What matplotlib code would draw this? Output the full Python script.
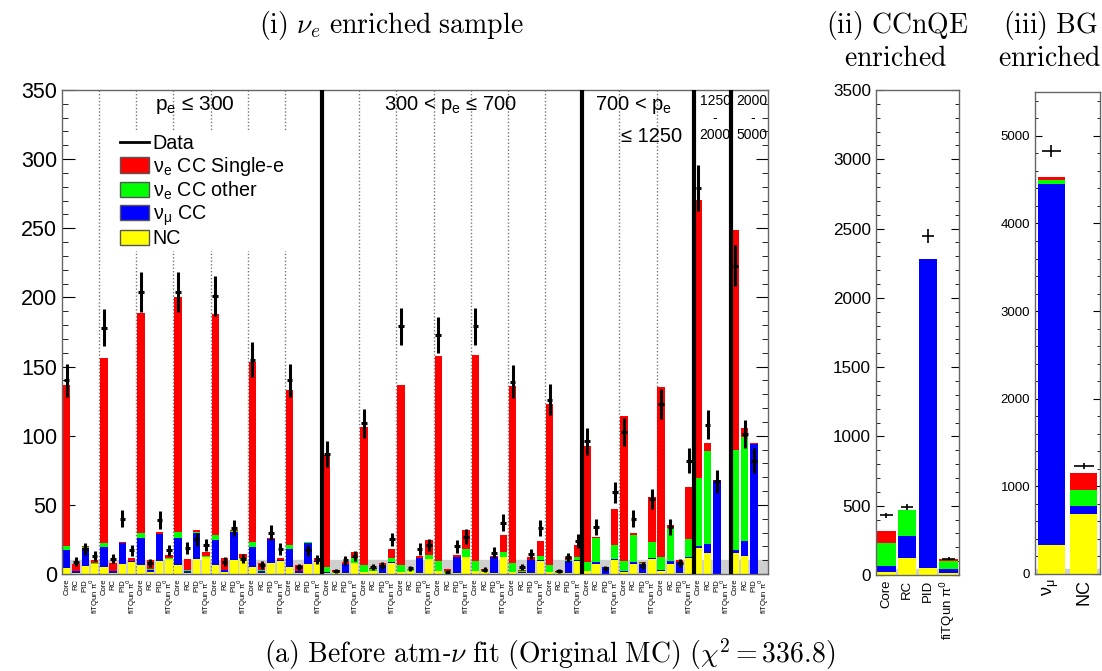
import numpy as np
import matplotlib
matplotlib.use('Agg')
import matplotlib.pyplot as plt
from matplotlib.patches import Patch
from matplotlib.lines import Line2D
from matplotlib.ticker import MultipleLocator

plt.rcParams['font.family'] = ['Liberation Sans', 'DejaVu Sans']

# ---------------- data: (i) nu_e enriched sample (76 bins) ----------------
sub_labels = ["Core", "RC", "PID", "fiTQun π$^0$"]
bin_labels = sub_labels * 19

nc = [4.6, 1, 6, 7,   5.3, 1, 7.2, 8.7,   6.5, 1.5, 9.6, 10.6,   6.5, 1, 10.6, 12,
      6.5, 1.2, 10.1, 10.6,   5.3, 1, 8.2, 9.6,   4.8, 1, 7.2, 8.9,
      1, 0.5, 0.8, 8,   1.5, 2, 0.5, 8.2,   1.5, 2, 0.5, 10.6,   2, 0.5, 0.5, 12,
      2, 1.2, 0.5, 12,   1.5, 1, 0.8, 9.6,   1.5, 0.5, 0.5, 9.6,
      2, 7.5, 0.3, 10,   1.7, 7.5, 0.5, 11,   2.4, 7.5, 0.5, 11.5,
      18.5, 15.5, 0, 0,
      15, 13, 0, 0]
numu = [12.4, 1, 13, 0.4,   14, 1, 15, 0.4,   19.3, 1.5, 19.3, 0.5,   19.3, 1.5, 19.3, 0.5,
        18.1, 1.5, 20.5, 0.5,   14.5, 1.5, 17.1, 0.4,   13.2, 1, 15.5, 0.4,
        0.2, 0.2, 6.2, 0.3,   0.2, 0.4, 6, 0.5,   0.3, 0.3, 10.8, 0.5,   0.3, 0.2, 11.5, 0.5,
        0.3, 0.3, 11.5, 0.5,   0.3, 0.3, 9.3, 0.4,   0.3, 0.2, 9.2, 0.4,
        0.3, 1.5, 5, 0.7,   0.3, 1.5, 7, 0.5,   0.3, 2, 8, 0.7,
        2, 6.5, 67, 0,
        2, 11, 94, 0]
nue_other = [3, 0.3, 0.3, 0.4,   3.3, 0.5, 0.3, 0.4,   3.6, 0.3, 0.3, 0.5,   4.8, 0.3, 0.5, 0.8,
             3.6, 0.3, 0.3, 0.6,   3.6, 0.2, 0.3, 0.4,   3, 0.2, 0.2, 0.4,
             3.8, 1, 0.3, 3,   4.8, 1.5, 0.3, 2.6,   5, 1, 0.3, 2.6,   7.3, 1.3, 0.3, 5.5,
             7.3, 1, 0.3, 3.6,   6, 1.2, 0.3, 3,   4.7, 1, 0.3, 2,
             6.6, 17, 0, 10,   7.4, 19.5, 0.2, 11.7,   9.3, 24, 0.5, 13,
             49, 67, 0.3, 0,
             73, 75, 0, 0]
nue_single = [117, 5, 0.8, 2,   133.4, 5.7, 0.7, 1.8,   159, 6.8, 1.1, 2.1,   170, 7.8, 1.4, 2.8,
              160, 8.3, 1, 2.8,   129.6, 5.5, 0.5, 1.4,   112, 4.3, 0.6, 1.6,
              81, 1.2, 1.2, 4.7,   100, 0.3, 1, 6.7,   130, 0.3, 1.2, 11,   148, 1.5, 1.4, 13.8,
              148.8, 1, 1, 11.9,   128.2, 0.5, 1.8, 10.7,   116.5, 0.5, 2, 9,
              84, 1, 0, 26,   105, 1.5, 1, 32.2,   123, 2, 1, 37.5,
              201, 6, 0.7, 0,
              159, 6.5, 0.5, 0]
data = [140, 9, 18, 13,   178, 11, 40, 17,   204, 8, 39, 17,   204, 19, 25, 21,
        201, 9, 33, 11,   155, 6.5, 30, 18,   140, 5, 17, 10.6,
        87, 2, 10, 13,   109, 5, 6, 25,   179, 4, 18, 21,   173, 1.5, 20, 27,
        179, 3, 15.5, 37,   139, 5, 14.5, 33,   126, 2, 12, 24,
        96, 34, 4, 59,   103, 40, 6, 54,   123, 34, 8, 82,
        279, 108, 67, np.nan,
        223, 101, 82, np.nan]

# ---------------- (ii) CCnQE enriched ----------------
cc_labels = ["Core", "RC", "PID", "fiTQun π$^0$"]
cc_nc = [24, 125, 48, 17]
cc_numu = [40, 160, 2230, 24]
cc_other = [170, 185, 0, 60]
cc_single = [80, 0, 0, 12]
cc_data = [430, 490, 2445, 118]

# ---------------- (iii) BG enriched ----------------
bg_labels = ["ν$_\\mathregular{\\mu}$", "NC"]
bg_nc = [330, 690]
bg_numu = [4120, 85]
bg_other = [50, 180]
bg_single = [30, 195]
bg_data = [4830, 1230]

COLS = ['#ffff00', '#0000ff', '#00ff00', '#ff0000']
W, H = 1102, 671

def px_axes(l, r, t, b):
    return [l / W, 1 - b / H, (r - l) / W, (b - t) / H]

def stack(ax, comps, width):
    x = np.arange(len(comps[0]))
    bottom = np.zeros(len(x))
    for vals, c in zip(comps, COLS):
        v = np.asarray(vals, float)
        ax.bar(x, v, width, bottom=bottom, color=c, linewidth=0, zorder=2)
        bottom += v
    return x

def style(ax):
    for s in ax.spines.values():
        s.set_color('#666666')
        s.set_linewidth(1.0)
    ax.tick_params(axis='y', which='both', direction='in', left=True, right=True)
    ax.tick_params(axis='x', length=0)

fig = plt.figure(figsize=(W / 100, H / 100), dpi=100)

# ---------------- main panel ----------------
ax = fig.add_axes(px_axes(62, 768, 90, 574))
ax.axhspan(0, 10, color='#cfcfcf', zorder=1)
x = stack(ax, [nc, numu, nue_other, nue_single], 0.8)
d = np.asarray(data, float)
ax.errorbar(x, d, yerr=np.sqrt(d), xerr=0.3, fmt='none', ecolor='k',
            elinewidth=2.2, zorder=4)
ax.set_xlim(-0.5, 75.5)
ax.set_ylim(0, 350)
ax.yaxis.set_major_locator(MultipleLocator(50))
ax.yaxis.set_minor_locator(MultipleLocator(10))
style(ax)
ax.tick_params(axis='y', which='major', length=9, labelsize=15.5)
ax.tick_params(axis='y', which='minor', length=4.5)
ax.set_xticks(x)
ax.set_xticklabels(bin_labels, rotation=90, fontsize=5.5)
for b in range(4, 76, 4):
    if b in (28, 56, 68, 72):
        ax.axvline(b - 0.5, color='k', lw=3, zorder=3)
    else:
        ax.axvline(b - 0.5, color='#777777', ls=(0, (1, 1.5)), lw=1, zorder=1)

ax.text(13.8, 347, "p$_\\mathregular{e}$ ≤ 300", ha='center', va='top', fontsize=15, zorder=6)
ax.text(41.3, 347, "300 < p$_\\mathregular{e}$ ≤ 700", ha='center', va='top', fontsize=14.5, zorder=6)
ax.text(56.9, 347, "700 < p$_\\mathregular{e}$", ha='left', va='top', fontsize=14.5, zorder=6)
ax.text(66.3, 323, "≤ 1250", ha='right', va='top', fontsize=14.5, zorder=6)
ax.text(69.8, 347, "1250\n-\n2000", ha='center', va='top', fontsize=10, linespacing=1.25, zorder=6)
ax.text(73.8, 347, "2000\n-\n5000", ha='center', va='top', fontsize=10, linespacing=1.25, zorder=6)

handles = [Line2D([], [], color='k', lw=2)] + [Patch(fc=c, ec='#555555', lw=1) for c in COLS[::-1]]
labels = ["Data", "ν$_\\mathregular{e}$ CC Single-e", "ν$_\\mathregular{e}$ CC other",
          "ν$_\\mathregular{\\mu}$ CC", "NC"]
leg = ax.legend(handles, labels, loc='upper left', bbox_to_anchor=(0.078, 0.915),
                fontsize=14.2, frameon=True, fancybox=False, borderpad=0.15,
                labelspacing=0.08, handlelength=1.45, handleheight=0.85, handletextpad=0.2,
                borderaxespad=0)
leg.get_frame().set_edgecolor('none')
leg.get_frame().set_facecolor('white')
leg.get_frame().set_alpha(1)
leg.set_zorder(5)

# ---------------- CCnQE panel ----------------
ax2 = fig.add_axes(px_axes(876, 959, 90, 575))
ax2.axhspan(0, 40, color='#cfcfcf', zorder=1)
x2 = stack(ax2, [cc_nc, cc_numu, cc_other, cc_single], 0.88)
d2 = np.asarray(cc_data, float)
ax2.errorbar(x2, d2, yerr=np.sqrt(d2), xerr=0.3, fmt='none', ecolor='k', elinewidth=1.2, zorder=4)
ax2.set_xlim(-0.5, 3.5)
ax2.set_ylim(0, 3500)
ax2.yaxis.set_major_locator(MultipleLocator(500))
ax2.yaxis.set_minor_locator(MultipleLocator(100))
style(ax2)
ax2.tick_params(axis='y', which='major', length=6, labelsize=12.3)
ax2.tick_params(axis='y', which='minor', length=3)
ax2.set_xticks(x2)
ax2.set_xticklabels(cc_labels, rotation=90, fontsize=9.5)

# ---------------- BG panel ----------------
ax3 = fig.add_axes(px_axes(1035, 1100, 92, 574))
ax3.axhspan(0, 60, color='#cfcfcf', zorder=1)
x3 = stack(ax3, [bg_nc, bg_numu, bg_other, bg_single], 0.82)
d3 = np.asarray(bg_data, float)
ax3.errorbar(x3, d3, yerr=np.sqrt(d3), xerr=0.3, fmt='none', ecolor='k', elinewidth=1.2, zorder=4)
ax3.set_xlim(-0.5, 1.5)
ax3.set_ylim(0, 5500)
ax3.yaxis.set_major_locator(MultipleLocator(1000))
ax3.yaxis.set_minor_locator(MultipleLocator(200))
style(ax3)
ax3.tick_params(axis='y', which='major', length=5, labelsize=9.5)
ax3.tick_params(axis='y', which='minor', length=2.5)
ax3.set_xticks(x3)
ax3.set_xticklabels(bg_labels, rotation=90, fontsize=13)

# ---------------- captions ----------------
TF = 20
fig.text(391 / W, 1 - 25 / H, r"$\mathrm{(i)}\ \nu_e\ \mathrm{enriched\ sample}$",
         ha='center', va='center', fontsize=TF, math_fontfamily='cm')
fig.text(897 / W, 1 - 26 / H, r"$\mathrm{(ii)\ CCnQE}$", ha='center', va='center',
         fontsize=TF, math_fontfamily='cm')
fig.text(896 / W, 1 - 59 / H, r"$\mathrm{enriched}$", ha='center', va='center',
         fontsize=TF, math_fontfamily='cm')
fig.text(1050 / W, 1 - 26 / H, r"$\mathrm{(iii)\ BG}$", ha='center', va='center',
         fontsize=TF, math_fontfamily='cm')
fig.text(1050 / W, 1 - 59 / H, r"$\mathrm{enriched}$", ha='center', va='center',
         fontsize=TF, math_fontfamily='cm')
fig.text(550 / W, 1 - 654 / H,
         r"$\mathrm{(a)\ Before\ atm}$-$\nu\ \mathrm{fit\ (Original\ MC)}\ (\chi^2 = 336.8)$",
         ha='center', va='center', fontsize=TF, math_fontfamily='cm')

fig.savefig('out.png', dpi=100)
